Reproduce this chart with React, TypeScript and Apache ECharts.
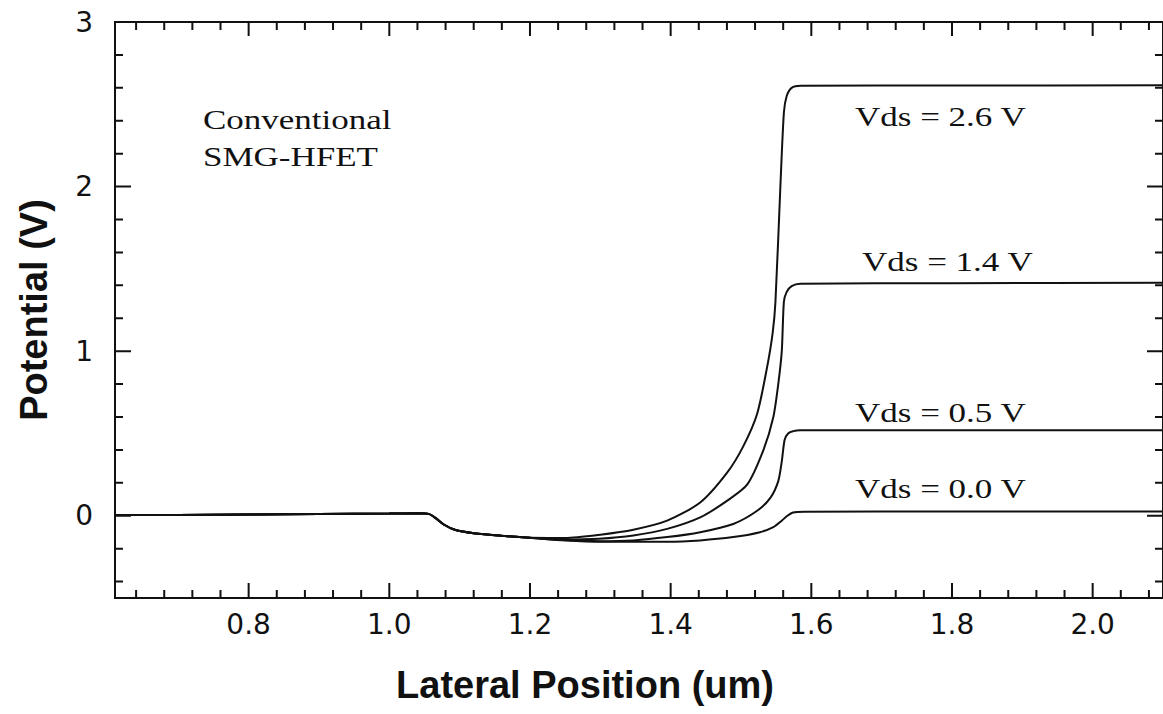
import React, { useEffect, useRef } from "react";
import * as echarts from "echarts";

// ---- data ----
const xMajor = [0.8, 1.0, 1.2, 1.4, 1.6, 1.8, 2.0];
const xMinor = [0.64, 0.68, 0.72, 0.76, 0.84, 0.88, 0.92, 0.96, 1.04, 1.08, 1.12, 1.16, 1.24, 1.28, 1.32, 1.36, 1.44, 1.48, 1.52, 1.56, 1.64, 1.68, 1.72, 1.76, 1.84, 1.88, 1.92, 1.96, 2.04, 2.08];
const yMajor = [0, 1, 2, 3];
const yMinor = [-0.4, -0.2, 0.2, 0.4, 0.6, 0.8, 1.2, 1.4, 1.6, 1.8, 2.2, 2.4, 2.6, 2.8];

// shared profile under source and gate (all bias values coincide here)
const sharedProfile: [number, number][] = [
  [0.61, 0.004], [0.7, 0.005], [0.8, 0.007], [0.9, 0.01], [1.0, 0.013], [1.04, 0.015],
  [1.056, 0.011], [1.066, -0.015], [1.078, -0.055], [1.093, -0.085], [1.12, -0.106],
  [1.16, -0.122], [1.2, -0.134],
];
const vds26: [number, number][] = [
  [1.25, -0.135], [1.3, -0.115], [1.347, -0.085], [1.395, -0.03], [1.442, 0.08], [1.48, 0.26],
  [1.503, 0.42], [1.523, 0.62], [1.537, 0.9], [1.545, 1.11], [1.549, 1.3], [1.556, 2.0],
  [1.561, 2.45], [1.565, 2.55], [1.572, 2.6], [1.585, 2.613], [1.8, 2.614], [2.1, 2.615],
];
const vds14: [number, number][] = [
  [1.25, -0.145], [1.298, -0.14], [1.347, -0.12], [1.395, -0.08], [1.442, -0.01], [1.48, 0.09],
  [1.509, 0.19], [1.532, 0.4], [1.546, 0.6], [1.553, 0.8], [1.558, 1.0], [1.561, 1.3],
  [1.565, 1.36], [1.572, 1.395], [1.584, 1.41], [1.8, 1.413], [2.1, 1.415],
];
const vds05: [number, number][] = [
  [1.25, -0.148], [1.3, -0.155], [1.347, -0.15], [1.395, -0.13], [1.442, -0.1], [1.489, -0.05],
  [1.523, 0.03], [1.542, 0.11], [1.553, 0.21], [1.558, 0.33], [1.562, 0.46], [1.567, 0.5],
  [1.575, 0.515], [1.584, 0.52], [1.8, 0.52], [2.1, 0.52],
];
const vds00: [number, number][] = [
  [1.25, -0.15], [1.3, -0.158], [1.395, -0.158], [1.442, -0.15], [1.489, -0.13], [1.527, -0.1],
  [1.546, -0.07], [1.558, -0.03], [1.566, 0.0], [1.574, 0.02], [1.59, 0.024], [1.8, 0.025], [2.1, 0.025],
];
const curveLabels = ["Vds = 2.6 V", "Vds = 1.4 V", "Vds = 0.5 V", "Vds = 0.0 V"];
const noteLines = ["Conventional", "SMG-HFET"];

const X_MIN = 0.61;
const X_MAX = 2.1;
const Y_MIN = -0.5;
const Y_MAX = 3;

export default function App() {
  const ref = useRef<HTMLDivElement>(null);
  useEffect(() => {
    document.body.style.margin = "0";
    const chart = echarts.init(ref.current!, null, { renderer: "svg" });
    const black = "#111";
    const serif = "'Liberation Serif', 'Times New Roman', serif";
    const txt = (text: string, x: number, y: number) => ({
      type: "text",
      x,
      y,
      scaleX: 1.25,
      style: { text, font: `28px ${serif}`, fill: black, textAlign: "left", textVerticalAlign: "middle" },
    });
    const mk = (name: string, data: [number, number][]) => ({
      type: "line",
      name,
      data: [...sharedProfile, ...data],
      showSymbol: false,
      smooth: 0.25,
      lineStyle: { color: black, width: 2 },
    });
    const notes = [
      txt(noteLines[0], 203, 120),
      txt(noteLines[1], 203, 157),
      txt(curveLabels[0], 855, 117),
      txt(curveLabels[1], 862, 262),
      txt(curveLabels[2], 855, 413),
      txt(curveLabels[3], 855, 489),
    ];
    chart.setOption({
      animation: false,
      backgroundColor: "#fff",
      grid: { show: false, left: 115, right: -2, top: 22, bottom: 116, containLabel: false },
      xAxis: {
        type: "value",
        min: X_MIN,
        max: X_MAX,
        splitLine: { show: false },
        axisLine: { show: false },
        axisTick: { show: false },
        axisLabel: {
          customValues: xMajor,
          formatter: (v: number) => v.toFixed(1),
          fontFamily: "'DejaVu Sans', sans-serif",
          fontSize: 28,
          color: black,
          margin: 12,
        },
        name: "Lateral Position (um)",
        nameLocation: "middle",
        nameGap: 68,
        nameTextStyle: {
          fontFamily: "'Liberation Sans', Arial, sans-serif",
          fontWeight: "bold",
          fontSize: 38,
          color: black,
          padding: [0, 108, 0, 0],
        },
      },
      yAxis: {
        type: "value",
        min: Y_MIN,
        max: Y_MAX,
        splitLine: { show: false },
        axisLine: { show: false },
        axisTick: { show: false },
        axisLabel: {
          customValues: yMajor,
          fontFamily: "'DejaVu Sans', sans-serif",
          fontSize: 28,
          color: black,
          margin: 22,
        },
        name: "Potential (V)",
        nameLocation: "middle",
        nameGap: 62,
        nameTextStyle: { fontFamily: "'Liberation Sans', Arial, sans-serif", fontWeight: "bold", fontSize: 38, color: black },
      },
      series: [mk(curveLabels[0], vds26), mk(curveLabels[1], vds14), mk(curveLabels[2], vds05), mk(curveLabels[3], vds00)],
      graphic: notes,
    });

    // frame edges drawn as "combs": one polyline per edge that runs along the
    // edge and steps inward at every tick, all positioned via the chart's scales
    const px = (v: [number, number]) => chart.convertToPixel({ gridIndex: 0 }, v) as number[];
    type T = { v: number; len: number };
    const merge = (major: number[], minor: number[], lMaj: number, lMin: number): T[] =>
      [...major.map((v) => ({ v, len: lMaj })), ...minor.map((v) => ({ v, len: lMin }))].sort((a, b) => a.v - b.v);
    const xt = merge(xMajor, xMinor, 15, 8);
    const xtTop = merge(xMajor, xMinor, 14, 8);
    const yt = merge(yMajor, yMinor, 16, 8);

    const combX = (yVal: number, list: T[], dir: number) => {
      const pts: number[][] = [];
      const s = px([X_MIN, yVal]);
      pts.push([s[0] - 1, s[1]]);
      list.forEach(({ v, len }) => {
        const p = px([v, yVal]);
        pts.push([p[0], p[1]]);
        pts.push([p[0], p[1] + dir * len]);
        pts.push([p[0], p[1]]);
      });
      const e = px([X_MAX, yVal]);
      pts.push([e[0] + 1, e[1]]);
      return pts;
    };
    const combY = (xVal: number, list: T[], dir: number) => {
      const pts: number[][] = [];
      const s = px([xVal, Y_MIN]);
      pts.push([s[0], s[1] + 1]);
      list.forEach(({ v, len }) => {
        const p = px([xVal, v]);
        pts.push([p[0], p[1]]);
        pts.push([p[0] + dir * len, p[1]]);
        pts.push([p[0], p[1]]);
      });
      const e = px([xVal, Y_MAX]);
      pts.push([e[0], e[1] - 1]);
      return pts;
    };
    const comb = (points: number[][]) => ({
      type: "polyline",
      silent: true,
      z: 100,
      shape: { points },
      style: { stroke: black, lineWidth: 2, fill: null, lineJoin: "bevel", lineCap: "butt" },
    });
    const frame = [
      comb(combX(Y_MIN, xt, -1)),
      comb(combX(Y_MAX, xtTop, 1)),
      comb(combY(X_MIN, yt, 1)),
      comb(combY(X_MAX, yt, -1)),
    ];
    chart.setOption({ graphic: [...notes, ...frame] }, { replaceMerge: ["graphic"] });

    return () => chart.dispose();
  }, []);
  return <div ref={ref} style={{ width: 1163, height: 714 }} />;
}
